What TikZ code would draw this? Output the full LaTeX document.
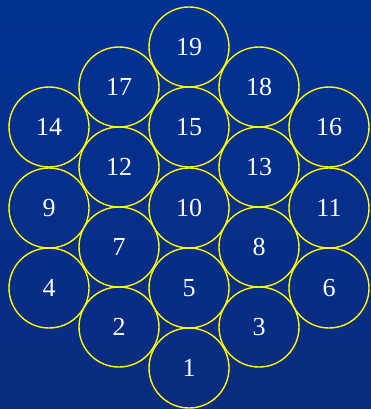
\documentclass[tikz,border=0pt]{standalone}
\usepackage{fontspec}
\setmainfont{Liberation Serif}
\definecolor{bgtop}{RGB}{0,50,148}
\definecolor{bgbot}{RGB}{10,44,126}
\definecolor{ring}{RGB}{255,255,0}
\tikzset{cell/.style={circle, draw=ring, line width=1.4pt, minimum size=80pt,
    inner sep=0pt, text=white, font=\fontsize{26}{30}\selectfont}}
\begin{document}
\begin{tikzpicture}[x=1pt, y=-1pt]
  \shade[top color=bgtop, bottom color=bgbot] (0,0) rectangle (371,409);
  \foreach \x/\y/\n in {189/47/19, 119/87/17, 259/87/18,
                        49/127/14, 189/127/15, 329/127/16,
                        119/167/12, 259/167/13,
                        49/208/9, 189/208/10, 329/208/11,
                        119/247/7, 259/247/8,
                        49/288/4, 189/288/5, 329/288/6,
                        119/327/2, 259/327/3, 189/368/1}
    { \node[cell] (c\n) at (\x,\y) {\n}; }
\end{tikzpicture}
\end{document}
